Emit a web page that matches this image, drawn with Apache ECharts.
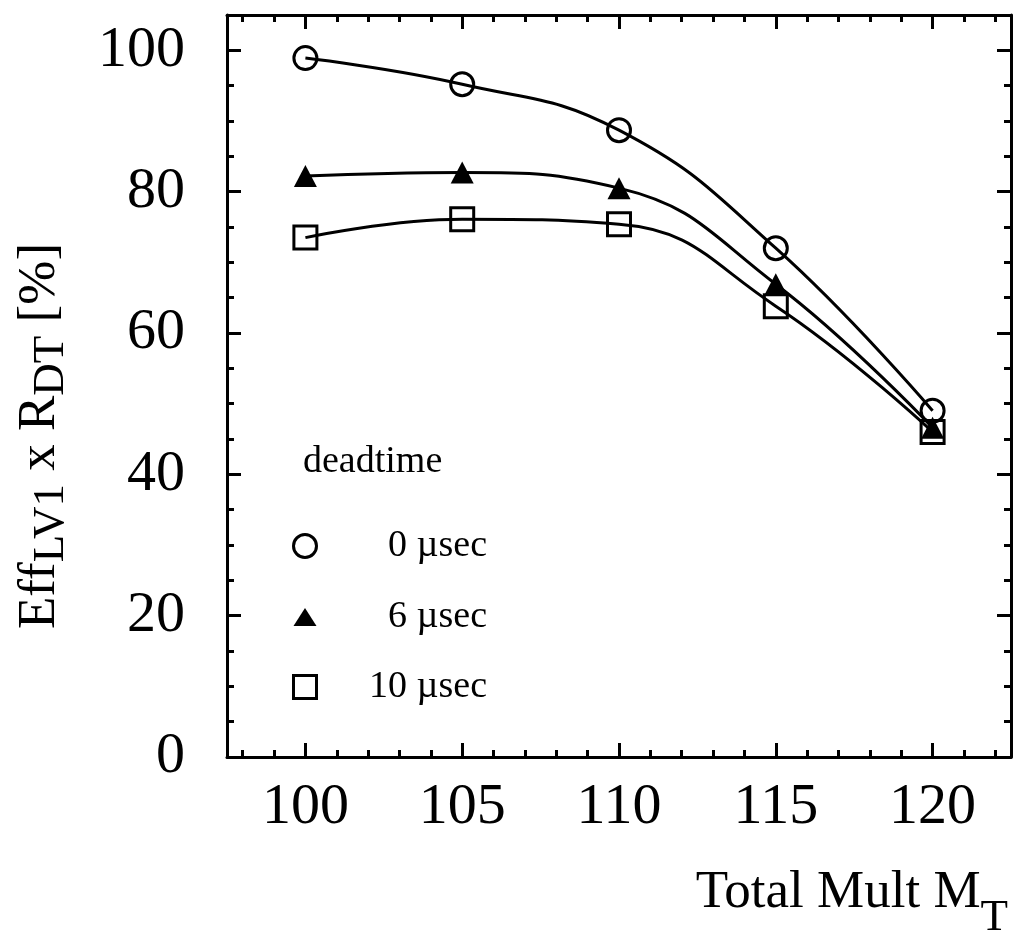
<!DOCTYPE html>
<html>
<head>
<meta charset="utf-8">
<script src="https://cdn.jsdelivr.net/npm/echarts@6/dist/echarts.min.js"></script>
<style>
html,body{margin:0;padding:0;background:#fff;}
#c{width:1013px;height:932px;}
</style>
</head>
<body>
<div id="c"></div>
<script>
// ---- data ----
const mult = [100, 105, 110, 115, 120];
const eff0 = [98.9, 95.2, 88.7, 72.0, 49.0];
const eff6 = [82.2, 82.7, 80.5, 66.9, 46.6];
const eff10 = [73.5, 76.1, 75.4, 63.8, 46.0];
const seriesNames = ['0 µsec', '6 µsec', '10 µsec'];
const legendTitle = 'deadtime';
// ---- tick labels ----
const xMajor = [100, 105, 110, 115, 120];
const xMinor = [98, 99, 101, 102, 103, 104, 106, 107, 108, 109, 111, 112, 113, 114, 116, 117, 118, 119, 121, 122];
const yMajor = [0, 20, 40, 60, 80, 100];
const yMinor = [5, 10, 15, 25, 30, 35, 45, 50, 55, 65, 70, 75, 85, 90, 95];

const FONT = '"Liberation Serif","Times New Roman",serif';
const chart = echarts.init(document.getElementById('c'), null, {renderer: 'canvas'});

function pairs(ys) { return mult.map((x, i) => [x, ys[i]]); }

function xAx(pos, vals, len, labels, line) {
  return {
    type: 'value', position: pos, min: 97.5, max: 122.5,
    axisLine: {show: line, onZero: false, lineStyle: {color: '#000', width: 3}},
    axisTick: {show: true, inside: true, length: len, customValues: vals, lineStyle: {color: '#000', width: 3}},
    axisLabel: {show: labels, customValues: vals, color: '#000', fontFamily: FONT, fontSize: 58, margin: 22},
    splitLine: {show: false}
  };
}
function yAx(pos, vals, len, labels, line) {
  return {
    type: 'value', position: pos, min: 0, max: 105,
    axisLine: {show: line, onZero: false, lineStyle: {color: '#000', width: 3}},
    axisTick: {show: true, inside: true, length: len, customValues: vals, lineStyle: {color: '#000', width: 3}},
    axisLabel: {show: labels, customValues: vals, color: '#000', fontFamily: FONT, fontSize: 58, margin: 42},
    splitLine: {show: false}
  };
}

const lineCommon = {
  type: 'line', smooth: 0.45, xAxisIndex: 0, yAxisIndex: 0,
  lineStyle: {color: '#000', width: 3},
  itemStyle: {color: 'rgba(0,0,0,0)', borderColor: '#000', borderWidth: 3},
  emphasis: {disabled: true}, z: 3
};

const legendY = [546, 617, 687];

chart.setOption({
  animation: false,
  backgroundColor: '#fff',
  grid: {left: 227, right: 2, top: 15, bottom: 175, containLabel: false},
  xAxis: [
    xAx('bottom', xMajor, 14, true, true),
    xAx('bottom', xMinor, 7, false, false),
    xAx('top', xMajor, 14, false, true),
    xAx('top', xMinor, 7, false, false)
  ],
  yAxis: [
    yAx('left', yMajor, 14, true, true),
    yAx('left', yMinor, 7, false, false),
    yAx('right', yMajor, 14, false, true),
    yAx('right', yMinor, 7, false, false)
  ],
  series: [
    Object.assign({}, lineCommon, {name: seriesNames[0], data: pairs(eff0), symbol: 'circle', symbolSize: 23}),
    Object.assign({}, lineCommon, {name: seriesNames[1], data: pairs(eff6), symbol: 'triangle', symbolSize: [23, 22],
      itemStyle: {color: '#000', borderColor: '#000', borderWidth: 0}}),
    Object.assign({}, lineCommon, {name: seriesNames[2], data: pairs(eff10), symbol: 'rect', symbolSize: 23})
  ],
  graphic: [
    {type: 'text', x: 303, y: 462, style: {text: legendTitle, fill: '#000', font: '38px ' + FONT, verticalAlign: 'middle', align: 'left'}},
    {type: 'circle', shape: {cx: 305, cy: legendY[0], r: 11.5}, style: {fill: 'none', stroke: '#000', lineWidth: 3}},
    {type: 'polygon', shape: {points: [[305, legendY[1] - 9], [316.5, legendY[1] + 9], [293.5, legendY[1] + 9]]}, style: {fill: '#000'}},
    {type: 'rect', shape: {x: 293.5, y: legendY[2] - 11.5, width: 23, height: 23}, style: {fill: 'none', stroke: '#000', lineWidth: 3}},
    {type: 'text', x: 487, y: legendY[0], style: {text: seriesNames[0], fill: '#000', font: '38px ' + FONT, verticalAlign: 'middle', align: 'right'}},
    {type: 'text', x: 487, y: legendY[1], style: {text: seriesNames[1], fill: '#000', font: '38px ' + FONT, verticalAlign: 'middle', align: 'right'}},
    {type: 'text', x: 487, y: legendY[2], style: {text: seriesNames[2], fill: '#000', font: '38px ' + FONT, verticalAlign: 'middle', align: 'right'}},
    // x axis name
    {type: 'text', x: 1008, y: 867, style: {
      text: '{m|Total Mult M}{s|T}', align: 'right', verticalAlign: 'top', fill: '#000',
      rich: {
        m: {fontFamily: FONT, fontSize: 53, lineHeight: 60, verticalAlign: 'top', fill: '#000'},
        s: {fontFamily: FONT, fontSize: 45, lineHeight: 45, padding: [29, 0, 0, 0], verticalAlign: 'top', fill: '#000'}
      }
    }},
    // y axis name
    {type: 'text', x: 14, y: 436, rotation: Math.PI / 2, style: {
      text: '{m|Eff}{s|LV1}{m| x R}{s|DT}{m| [%]}', align: 'center', verticalAlign: 'top', fill: '#000',
      rich: {
        m: {fontFamily: FONT, fontSize: 53, lineHeight: 60, verticalAlign: 'top', fill: '#000'},
        s: {fontFamily: FONT, fontSize: 45, lineHeight: 45, padding: [15, 0, 0, 0], verticalAlign: 'top', fill: '#000'}
      }
    }}
  ]
});
</script>
</body>
</html>
